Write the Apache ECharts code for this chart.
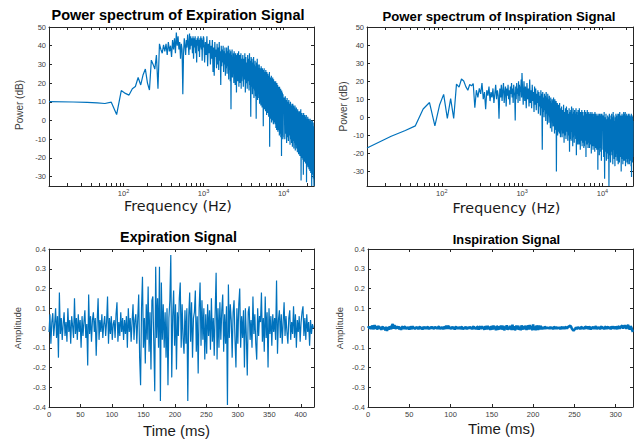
<!DOCTYPE html>
<html><head><meta charset="utf-8">
<script src="https://cdn.jsdelivr.net/npm/echarts@6/dist/echarts.min.js"></script>
<style>html,body{margin:0;padding:0;background:#fff}#c{width:636px;height:440px}</style>
</head><body><div id="c"></div>
<script>
// ---------- DATA ----------
const specBinHz = 11.71875;            // FFT bin width (Hz)
const segStartBin = [1, 86, 264, 872];  // first bin of each stored segment
const segBinStep  = [1, 2, 4, 12];      // bin stride of each stored segment

// Expiration power spectrum (dB)
const expDbSeg1 = [10.1,9.9,9.7,9.4,9.1,9.8,3.2,16,14.5,13.6,17,18.2,23,19,24.5,27.5,20,16.3,32.3,30,27.5,35,17,41,38,36,40.5,37,41,35,42,37,40,34,43,38,44,36,47,40,45,38,42,33,41,38,14,36,44,40,35,43,39,46,41,35,46.5,38,45,40,44,36,45,33,44,39,45,36,43,31,44,40,45,37,43,34,44,39,45,38,44,32,43,39,45];
const expDbSeg2 = [44,31,42,35,45,29,41,36,43,30, 40,33,43,26,39,24,42,34,38,28, 41,30,39,27,42,32,37,19,40,29, 38,31,40,26,37,30,39,24,36,28, 39,25,37,29,40,22,36,27,38,21, 37,6,35,26,38,23,34,28,36,20, 37,24,33,19,36,25,34,15,35,22, 36,21,33,26,37,18,32,23,35,20, 34,22,36,17,33,21];
const expDbSeg3 = [35,18,33,22,36,15,34,20,31,17,35,21,33,16,36,19,32,2,34,18,
33,14,31,17,34,12,30,16,32,13,29,1,31,15,33,11,30,14,28,12,
30,9,28,13,27,8,29,11,26,7,28,10,27,-3,25,9,28,6,26,10,
25,5,27,8,24,3,26,6,23,4,25,7,22,2,24,5,26,-14,23,3,
23,1,21,4,24,-1,22,2,20,0,23,3,21,-2,22,1,19,-1,21,2,
20,-2,18,1,21,-4,19,-1,17,-5,20,0,18,-3,19,-6,16,-2,18,-4,
17,-5,15,-8,18,-4,16,-7,14,-6,17,-9,15,-5,13,-19,16,-8,14,-7,
15,-8,13,-10,14,-9,12];
const expDbSeg4 = [12,-10,13,-7,11,-12,12,-9,10,-11,11,-8,9,-13,10,-10,8,-12,9,-14,
9,-11,8,-15,7,-12,8,-16,6,-13,7,-15,5,-17,6,-14,5,-18,4,-16,
5,-19,4,-17,6,-32,3,-20,4,-18,3,-21,2,-29,4,-19,2,-22,3,-20,
2,-23,1,-21,3,-33,1,-24,0,-22,2,-25,0,-23,1,-26,-1,-24,0,-27,
1,-25,-1,-28,0,-26,-2,-35,-1,-27,0,-29,-2,-28,-1,-31,-3,-30,-35];

// Inspiration power spectrum (dB)
const inspDbSeg1 = [-17,-10.5,-7.3,-4.7,4.6,8.2,-4.7,6.8,12.7,-0.6,10.4,-0.6,18.4,16.7,21.2,20.1,17,15,18.2,17.4,18.7,5.3,15,11,16,13,19,10,14,4.5,15,12,17,9,14,11,16,8,13,18,10,15,12,-0.8,16,11,18,9,15,19,8,14,17,6,16,12,18,10,15,7,17,13,19,11,16,8,18,14,12,-1.8,17,10,19,13,16,8,20,12,18,9,17,14,21,11,24.5];
const inspDbSeg2 = [18,7,20,9,17,5,19,10,16,6, 21,8,15,5,18,9,14,3,17,7, 16,4,13,8,15,2,14,6,12,1, 15,5,13,-18,14,3,11,0,13,4, 12,-2,14,2,11,-4,13,1,10,-3, 12,0,9,-6,11,-1,8,-8,10,-2, 9,-5,11,-3,7,-9,10,-4,8,-7, 9,-30,7,-6,8,-10,6,-5,7,-8, 6,-9,8,-7,5,-11];
const inspDbSeg3 = [6,-11,4,-9,7,-14,3,-10,5,-12,6,-8,4,-13,2,-10,5,-19,3,-12,
4,-13,6,-8,2,-16,5,-11,3,-14,4,-10,2,-12,5,-21,3,-13,1,-15,
4,-12,1,-15,5,-9,2,-18,3,-13,0,-11,4,-16,2,-10,3,-14,1,-17,
1,-16,4,-10,0,-13,3,-22,1,-12,2,-15,4,-11,0,-17,3,-14,1,-12,
2,-17,-1,-11,3,-15,0,-13,2,-20,1,-12,3,-16,-1,-14,2,-18,0,-13,
-1,-16,2,-12,0,-19,3,-14,1,-17,-2,-13,2,-15,0,-18,1,-12,-1,-16,
1,-29,2,-13,0,-18,1,-15,-1,-21,2,-14,0,-17,1,-13,-1,-19,2,-15,
1,-24,0,-16,2,-18,0];
const inspDbSeg4 = [1,-22,3,-34,0,-19,2,-24,-1,-20,1,-23,0,-38,2,-21,-1,-25,1,-19,
2,-21,0,-26,3,-18,1,-23,-2,-27,0,-22,2,-20,1,-24,-1,-21,2,-26,
2,-20,0,-25,3,-22,-1,-19,1,-30,0,-23,2,-21,-1,-26,1,-22,3,-24,
2,-24,0,-21,3,-27,1,-23,-1,-20,2,-25,0,-22,1,-26,-1,-23,2,-21,
2,-26,0,-22,1,-24,-1,-21,0,-27,2,-33,-1,-23,1,-25,0,-22,-2];

// Time signals
const expSampleMs = 1.5;
const expAmp = [
-0.02,0.07,-0.08,0.03,0.075,-0.04,0.02,0.1,-0.05,0.06,
-0.15,0.18,-0.03,0.05,-0.06,0.02,0.08,-0.04,0.03,-0.07,
0.1,-0.02,0.04,-0.08,0.06,0.01,-0.05,0.15,-0.03,0.05,
-0.06,0.07,-0.02,0.04,-0.1,0.06,-0.04,0.03,0.09,-0.05,
0.02,-0.19,0.17,-0.03,0.06,-0.07,0.04,0.08,-0.02,0.05,
-0.14,0.03,0.15,-0.06,0.04,-0.02,0.07,-0.05,0.02,0.06,
-0.04,0.03,0.16,-0.08,0.05,-0.03,0.06,-0.06,0.02,0.04,
-0.05,0.07,0.13,-0.07,0.03,-0.04,0.08,-0.02,0.05,-0.06,
0.04,-0.03,0.06,-0.1,0.1,-0.02,0.05,-0.07,0.03,0.12,
-0.06,0.04,0.07,-0.08,0.05,0.17,-0.15,-0.29,0.1,0.26,
-0.1,0.05,-0.18,0.12,-0.06,0.21,-0.12,0.08,-0.21,0.14,
0.16,-0.08,-0.32,0.31,-0.05,0.15,-0.1,0.31,-0.37,0.23,
-0.06,0.12,-0.1,0.08,-0.15,0.1,-0.29,0.05,0.14,0.37,
-0.25,0.06,0.19,-0.09,0.12,-0.21,0.08,-0.04,0.15,0.23,
-0.1,0.12,-0.05,-0.13,0.09,-0.08,0.1,-0.37,0.06,0.18,
-0.07,0.13,-0.15,0.05,0.08,0.19,-0.12,0.06,-0.23,0.1,
0.23,-0.09,0.14,-0.06,0.1,-0.16,0.07,-0.13,0.12,-0.04,
0.09,-0.11,0.15,-0.07,0.05,-0.14,0.08,0.28,-0.16,0.1,
-0.1,0.13,-0.06,0.09,0.17,-0.12,0.07,-0.08,0.11,-0.39,
0.22,-0.05,0.12,0.04,-0.15,0.08,0.14,-0.06,-0.2,0.1,
-0.08,0.12,0.2,-0.1,0.06,-0.05,0.09,-0.2,0.1,-0.04,
-0.24,0.08,0.11,-0.06,0.04,-0.1,0.16,-0.03,0.07,-0.08,
-0.16,0.1,-0.04,0.06,0.03,0.18,-0.07,0.05,-0.12,0.16,
-0.05,0.08,-0.2,0.1,-0.03,0.06,-0.09,0.07,-0.02,0.05,
-0.06,0.24,-0.13,0.04,0.09,-0.05,0.07,-0.08,0.03,0.13,
-0.04,0.06,-0.02,-0.08,0.05,0.09,-0.06,0.03,-0.03,0.11,
-0.05,0.07,-0.1,0.04,-0.02,0.06,-0.07,0.03,0.08,0.11,
-0.04,0.05,-0.06,0.07,-0.02,0.03,-0.09,0.04,-0.03,0.02,
0.0];
const inspSampleMs = 1;
const inspAmp = [
0,.006,-.004,.008,-.005,.012,.004,-.006,.015,-.003,.01,-.008,.005,.009,-.004,.006,-.01,.003,.007,-.006,
.004,-.012,.006,-.015,.003,-.008,.007,.002,-.006,.012,.02,-.004,.014,.006,-.005,.01,-.003,.008,-.007,.005,
-.009,.004,.007,-.005,.003,.008,-.006,.002,-.004,.006,-.008,.005,.003,-.006,.009,-.003,.004,-.007,.006,-.002,
.005,-.006,.003,.007,-.005,.004,-.008,.006,.002,-.004,.007,-.005,.003,.006,-.007,.004,-.003,.008,-.004,.005,
-.006,.007,-.002,.005,-.005,.004,.008,-.006,.003,-.004,.006,-.007,.005,.003,-.005,.012,-.004,.006,.01,-.005,
.004,-.006,.007,-.003,.005,-.008,.004,.006,-.005,.003,-.004,.007,-.006,.004,.005,-.007,.003,-.005,.006,.002,
-.006,.005,-.004,.007,-.003,.006,-.007,.004,.008,-.005,.003,-.006,.006,.005,-.008,.004,.007,-.006,.01,-.004,
.006,-.009,.008,.004,-.007,.011,-.005,.006,-.01,.009,.004,-.008,.012,-.006,.007,-.011,.01,.003,-.009,.008,
-.006,.013,-.008,.005,.01,-.012,.007,-.005,.014,-.009,.006,-.007,.011,.004,-.01,.017,-.008,.009,-.012,.006,
.01,-.007,.012,-.009,.005,-.011,.013,.004,-.008,.01,-.006,.012,-.01,.007,.011,-.008,.015,-.006,.009,-.012,
.018,-.009,.007,-.011,.012,.004,-.01,.013,-.007,.008,.005,-.006,.004,-.005,.006,.003,-.004,.005,-.003,.004,
-.005,.006,-.002,.004,-.006,.005,.003,-.004,.006,-.005,.004,-.003,.005,-.006,.003,.004,-.005,.006,-.004,.003,
.005,-.003,.004,.007,.009,.012,.006,-.004,-.009,-.013,-.008,-.004,.003,-.006,.005,-.002,.004,-.007,.006,.003,
-.005,.004,-.006,.007,.005,-.004,.008,-.006,.003,.006,-.008,.005,-.003,.007,-.005,.004,.009,-.006,.005,-.004,
.006,-.007,.004,.008,-.003,.005,-.006,.004,.007,-.005,.003,.006,-.004,.005,-.007,.009,-.003,.006,.004,-.005,
.007,.003,-.006,.008,.005,-.004,.006,.009,.012,-.003,.007,.013,.006,-.004,.01,.015,.005,-.008,.009,.003,
-.012,-.02];

// Tick values
const freqLabelTicks = [100, 1000, 10000];
const freqAllTicks = [20,30,40,50,60,70,80,90,100,200,300,400,500,600,700,800,900,1000,2000,3000,4000,5000,6000,7000,8000,9000,10000,20000];
const dbTicks = [-30,-20,-10,0,10,20,30,40,50];
const ampTicks = [-0.4,-0.3,-0.2,-0.1,0,0.1,0.2,0.3,0.4];
const expTimeTicks = [0,50,100,150,200,250,300,350,400];
const inspTimeTicks = [0,50,100,150,200,250,300];

// ---------- BUILD ----------
function buildSpectrum(segs) {
  const out = [];
  segs.forEach((vals, s) => {
    vals.forEach((db, j) => {
      const bin = segStartBin[s] + j * segBinStep[s];
      out.push([bin * specBinHz, db]);
    });
  });
  return out;
}
function buildTime(vals, dt) { return vals.map((v, i) => [i * dt, v]); }

const expSpec = buildSpectrum([expDbSeg1, expDbSeg2, expDbSeg3, expDbSeg4]);
const inspSpec = buildSpectrum([inspDbSeg1, inspDbSeg2, inspDbSeg3, inspDbSeg4]);
const expTime = buildTime(expAmp, expSampleMs);
const inspTime = buildTime(inspAmp, inspSampleMs);

const AX = '#262626', LBL = '#404040', BLUE = '#0072BD';
const FONT = '"Liberation Sans", Arial, Helvetica, sans-serif';

function xAxis(grid, opts, pos, main) {
  return Object.assign({
    gridIndex: grid, position: pos,
    axisLine: { show: true, onZero: false, lineStyle: { color: AX, width: 1 } },
    axisTick: { show: true, inside: true, length: 3, customValues: opts.ticks, lineStyle: { color: AX, width: 1 } },
    axisLabel: main ? Object.assign({ show: true, customValues: opts.labels, color: LBL, fontSize: 7.5, fontFamily: FONT, margin: opts.margin || 3 }, opts.labelExtra || {}) : { show: false },
    splitLine: { show: false }, minorTick: { show: false }, minorSplitLine: { show: false }
  }, opts.base);
}
function yAxis(grid, opts, pos, main) {
  return {
    type: 'value', gridIndex: grid, position: pos, min: opts.min, max: opts.max,
    axisLine: { show: true, onZero: false, lineStyle: { color: AX, width: 1 } },
    axisTick: { show: true, inside: true, length: 3, customValues: opts.ticks, lineStyle: { color: AX, width: 1 } },
    axisLabel: main ? { show: true, customValues: opts.ticks, color: LBL, fontSize: 7.5, fontFamily: FONT, margin: 3 } : { show: false },
    splitLine: { show: false }
  };
}

const logLabel = {
  formatter: v => '10{s|' + Math.round(Math.log10(v)) + '}',
  rich: { s: { fontSize: 5.5, color: LBL, fontFamily: FONT, padding: [0, 0, 5, 0] } }
};
const specX = { base: { type: 'log', logBase: 10, min: specBinHz, max: 24000 }, ticks: freqAllTicks, labels: freqLabelTicks, labelExtra: logLabel, margin: 2 };
const expTX = { base: { type: 'value', min: 0, max: 421 }, ticks: expTimeTicks, labels: expTimeTicks };
const inspTX = { base: { type: 'value', min: 0, max: 321 }, ticks: inspTimeTicks, labels: inspTimeTicks };
const spec1Y = { min: -35, max: 50, ticks: dbTicks };
const spec2Y = { min: -38, max: 50, ticks: dbTicks };
const ampY = { min: -0.4, max: 0.4, ticks: ampTicks };

const grids = [
  { left: 49, top: 27, width: 265, height: 159 },
  { left: 367, top: 27, width: 266, height: 159 },
  { left: 49, top: 249, width: 265, height: 158 },
  { left: 368, top: 249, width: 265, height: 158 }
].map(g => Object.assign({ containLabel: false, outerBoundsMode: 'none', show: false }, g));

const xAxes = [
  xAxis(0, specX, 'bottom', true), xAxis(0, specX, 'top', false),
  xAxis(1, specX, 'bottom', true), xAxis(1, specX, 'top', false),
  xAxis(2, expTX, 'bottom', true), xAxis(2, expTX, 'top', false),
  xAxis(3, inspTX, 'bottom', true), xAxis(3, inspTX, 'top', false)
];
const yAxes = [
  yAxis(0, spec1Y, 'left', true), yAxis(0, spec1Y, 'right', false),
  yAxis(1, spec2Y, 'left', true), yAxis(1, spec2Y, 'right', false),
  yAxis(2, ampY, 'left', true), yAxis(2, ampY, 'right', false),
  yAxis(3, ampY, 'left', true), yAxis(3, ampY, 'right', false)
];

function line(data, xi, yi, w) {
  return { type: 'line', data: data, xAxisIndex: xi, yAxisIndex: yi, showSymbol: false, symbol: 'none',
    animation: false, silent: true, clip: true,
    lineStyle: { color: BLUE, width: w }, itemStyle: { color: BLUE } };
}

function txt(text, x, y, size, weight, color, rot) {
  return { type: 'text', x: x, y: y, rotation: rot || 0, silent: true,
    style: { text: text, x: 0, y: 0, align: 'center', verticalAlign: 'middle', fill: color,
      font: (weight || 'normal') + ' ' + size + 'px ' + FONT } };
}
const DJ = '"DejaVu Sans", Verdana, sans-serif';
function txtF(text, x, y, size, family, color) {
  return { type: 'text', x: x, y: y, silent: true,
    style: { text: text, x: 0, y: 0, align: 'center', verticalAlign: 'middle', fill: color,
      font: 'normal ' + size + 'px ' + family } };
}

const chart = echarts.init(document.getElementById('c'), null, { renderer: 'svg', width: 636, height: 440 });
chart.setOption({
  animation: false,
  backgroundColor: '#ffffff',
  textStyle: { fontFamily: FONT },
  grid: grids,
  xAxis: xAxes,
  yAxis: yAxes,
  series: [
    line(expSpec, 0, 0, 1.2),
    line(inspSpec, 2, 2, 1.2),
    line(expTime, 4, 4, 1.2),
    line(inspTime, 6, 6, 2.6)
  ],
  graphic: [
    txt('Power spectrum of Expiration Signal', 178, 15, 14.5, 'bold', '#000'),
    txt('Power spectrum of Inspiration Signal', 499, 16, 13.2, 'bold', '#000'),
    txt('Expiration Signal', 178.5, 237, 14.3, 'bold', '#000'),
    txt('Inspiration Signal', 506.5, 239, 12.8, 'bold', '#000'),
    txtF('Frequency (Hz)', 178, 206, 14.3, DJ, '#1a1a1a'),
    txtF('Frequency (Hz)', 506.5, 207.5, 14.3, DJ, '#1a1a1a'),
    txt('Time (ms)', 176.5, 430, 15, 'normal', '#1a1a1a'),
    txt('Time (ms)', 501.5, 428, 15, 'normal', '#1a1a1a'),
    txt('Power (dB)', 19, 105, 10, 'normal', '#404040', Math.PI / 2),
    txt('Power (dB)', 343, 106.5, 10, 'normal', '#404040', Math.PI / 2),
    txt('Amplitude', 17.5, 328, 9.5, 'normal', '#404040', Math.PI / 2),
    txt('Amplitude', 339.5, 328, 9.5, 'normal', '#404040', Math.PI / 2)
  ]
});
</script></body></html>
